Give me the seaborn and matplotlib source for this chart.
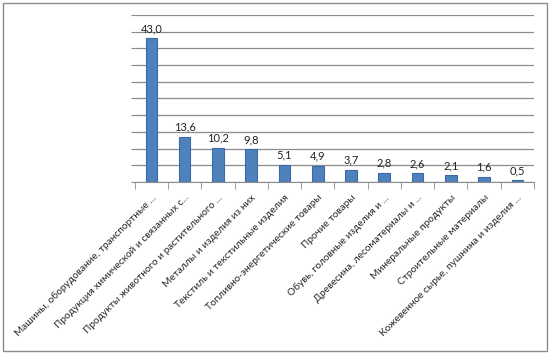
import numpy as np
import pandas as pd
import matplotlib
matplotlib.use("Agg")
import matplotlib.pyplot as plt
import seaborn as sns
from matplotlib.patches import Rectangle

# данные
categories = [
    "Машины, оборудование, транспортные ...",
    "Продукция химической и связанных с...",
    "Продукты животного и растительного ...",
    "Металлы и изделия из них",
    "Текстиль и текстильные изделия",
    "Топливно-энергетические товары",
    "Прочие товары",
    "Обувь, головные изделия и ...",
    "Древесина, лесоматериалы и ...",
    "Минеральные продукты",
    "Строительные материалы",
    "Кожевенное сырье, пушнина и изделия ...",
]
values = [43.0, 13.6, 10.2, 9.8, 5.1, 4.9, 3.7, 2.8, 2.6, 2.1, 1.6, 0.5]

df = pd.DataFrame({"cat": categories, "val": values})

sns.set_style("white")
plt.rcParams["font.family"] = ["Lato", "DejaVu Sans"]

fig = plt.figure(figsize=(5.5, 3.54), dpi=100)
ax = fig.add_axes([0.245, 0.486, 0.726, 0.472])

sns.barplot(data=df, x="cat", y="val", ax=ax, color="#4F81BD",
            width=0.35, edgecolor="#3A6AA8", linewidth=0.8, saturation=1)

ax.set_ylim(0, 50)
ax.set_yticks(np.arange(0, 51, 5))
ax.set_yticklabels([])
ax.yaxis.grid(True, color="#8C8C8C", linewidth=0.9)
ax.set_axisbelow(True)
ax.tick_params(axis="y", length=3, color="#8C8C8C", left=True)
ax.set_xlim(-0.5, len(categories) - 0.5)

# подписи значений
for i, v in enumerate(values):
    ax.text(i, v + 1.2, f"{v:.1f}".replace(".", ","), ha="center", va="bottom",
            fontsize=8, color="#222222")

# деления оси X между категориями
ax.set_xticks(np.arange(len(categories)))
ax.set_xticklabels(categories, rotation=45, ha="right", rotation_mode="anchor",
                   fontsize=7.3)
ax.tick_params(axis="x", length=0, pad=8)
ax.set_xticks(np.arange(-0.5, len(categories), 1), minor=True)
ax.tick_params(axis="x", which="minor", length=5, color="#8C8C8C", bottom=True)
ax.set_xlabel("")
ax.set_ylabel("")

for s in ["top", "right", "left"]:
    ax.spines[s].set_visible(False)
ax.spines["bottom"].set_color("#8C8C8C")

fig.patches.append(Rectangle((0.006, 0.008), 0.988, 0.984, transform=fig.transFigure,
                             fill=False, edgecolor="#8C8C8C", linewidth=1))

fig.savefig("out.png", dpi=100)
